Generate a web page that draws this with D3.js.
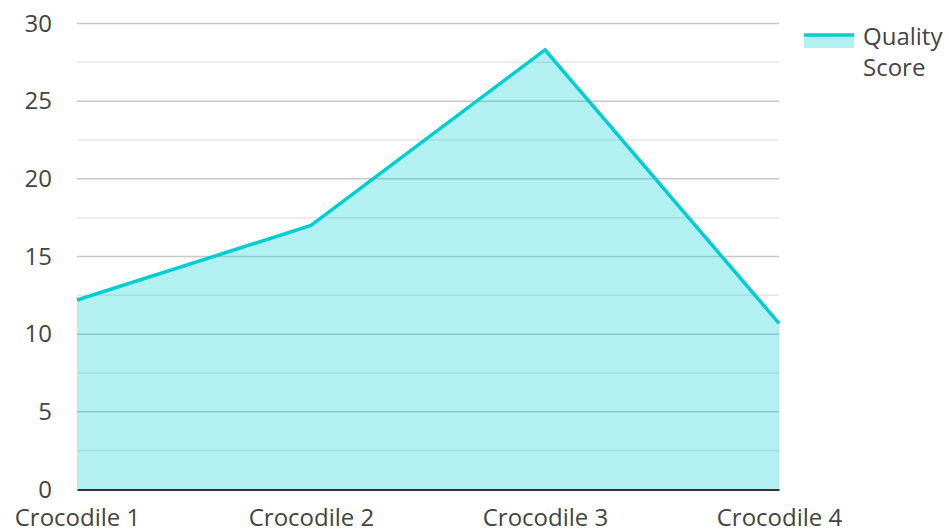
<!DOCTYPE html>
<html><head><meta charset="utf-8">
<script src="https://cdn.jsdelivr.net/npm/d3@7/dist/d3.min.js"></script>
<style>body{margin:0;background:#fff}text{font-family:"Open Sans",sans-serif}</style>
</head><body><svg id="c" width="949" height="531"></svg>
<script>
const categories = ["Crocodile 1","Crocodile 2","Crocodile 3","Crocodile 4"];
const values = [12.2, 17.0, 28.3, 10.7];
const majorTicks = [0,5,10,15,20,25,30];
const minorTicks = [2.5,7.5,12.5,17.5,22.5,27.5];
const seriesName = ["Quality","Score"];

const svg = d3.select("#c");
const m = {l:77, r:170, t:23.5, b:41.5};
const W = 949, H = 531;
const x = d3.scalePoint().domain(categories).range([m.l, W-m.r]).padding(0);
const y = d3.scaleLinear().domain([0,30]).range([H-m.b, m.t]);
const color = "#00CED1";
const fs = 24;

// gridlines
svg.append("g").selectAll("line").data(minorTicks).join("line")
  .attr("x1", m.l).attr("x2", W-m.r).attr("y1", d=>y(d)).attr("y2", d=>y(d))
  .attr("stroke","#e6e6e6").attr("stroke-width",1.5);
svg.append("g").selectAll("line").data(majorTicks.filter(d=>d>0)).join("line")
  .attr("x1", m.l).attr("x2", W-m.r).attr("y1", d=>y(d)).attr("y2", d=>y(d))
  .attr("stroke","#c8c8c8").attr("stroke-width",1.5);

const data = categories.map((c,i)=>({c, v: values[i]}));
svg.append("path").datum(data)
  .attr("d", d3.area().x(d=>x(d.c)).y0(y(0)).y1(d=>y(d.v)))
  .attr("fill", color).attr("fill-opacity", 0.3);
svg.append("path").datum(data)
  .attr("d", d3.line().x(d=>x(d.c)).y(d=>y(d.v)))
  .attr("fill","none").attr("stroke", color).attr("stroke-width",3.5).attr("stroke-linejoin","miter");

// y axis labels
const ya = svg.append("g").attr("transform",`translate(${m.l},0)`)
  .call(d3.axisLeft(y).tickValues(majorTicks).tickSize(0).tickPadding(25));
ya.select(".domain").remove();
ya.selectAll("text").attr("font-size",fs).attr("fill","#444").attr("font-family","Open Sans, sans-serif");

// x axis
const xa = svg.append("g").attr("transform",`translate(0,${y(0)})`)
  .call(d3.axisBottom(x).tickSize(0).tickPadding(19));
xa.select(".domain").attr("stroke","#333").attr("stroke-width",2);
xa.selectAll("text").attr("font-size",fs).attr("fill","#444").attr("font-family","Open Sans, sans-serif");

// legend
const lg = svg.append("g");
lg.append("rect").attr("x",804).attr("y",34).attr("width",50).attr("height",14).attr("fill",color).attr("fill-opacity",0.3);
lg.append("line").attr("x1",804).attr("x2",854).attr("y1",35).attr("y2",35).attr("stroke",color).attr("stroke-width",3.5);
lg.selectAll("text.l").data(seriesName).join("text").attr("class","l")
  .attr("x",863).attr("y",(d,i)=>45+i*31).attr("font-size",fs).attr("fill","#444").text(d=>d);
</script></body></html>
